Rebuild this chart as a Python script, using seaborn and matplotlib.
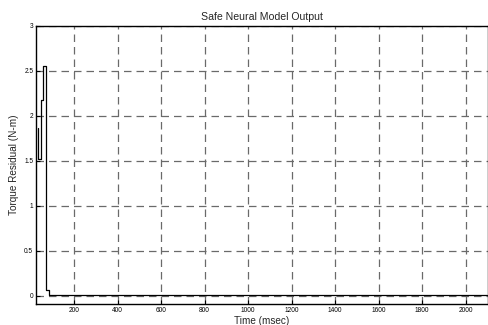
import matplotlib
matplotlib.use("Agg")
import matplotlib.pyplot as plt
import seaborn as sns
import pandas as pd

# Data
time_ms = [33, 33, 50, 57, 73, 85, 2100]
torque_residual = [1.87, 1.52, 2.18, 2.55, 0.07, 0.01, 0.01]
x_ticks = [200, 400, 600, 800, 1000, 1200, 1400, 1600, 1800, 2000]
y_ticks = [0, 0.5, 1, 1.5, 2, 2.5, 3]
y_tick_labels = ["0", "0.5", "1", "1.5", "2", "2.5", "3"]

sns.set_theme(style="white")
plt.rcParams['font.family'] = ['Liberation Sans', 'DejaVu Sans']

df = pd.DataFrame({"t": time_ms, "r": torque_residual})

fig = plt.figure(figsize=(4.89, 3.25), dpi=100)
ax = fig.add_axes([0.0736, 0.0646, 0.9244, 0.8554])

sns.lineplot(data=df, x="t", y="r", ax=ax, estimator=None, sort=False,
             drawstyle="steps-post", color="black", linewidth=0.9)

ax.set_xlim(25, 2103)
ax.set_ylim(-0.09, 3)
ax.set_xticks(x_ticks)
ax.set_xticklabels([str(v) for v in x_ticks])
ax.set_yticks(y_ticks)
ax.set_yticklabels(y_tick_labels)

ax.grid(True, color="#6a6a6a", linestyle=(0, (6, 4)), linewidth=0.9)
ax.tick_params(direction="in", length=3, width=0.8, labelsize=4.7,
               colors="black", pad=2, top=False, right=False,
               bottom=True, left=True)
for s in ax.spines.values():
    s.set_color("black")
    s.set_linewidth(1.0)

ax.set_title("Safe Neural Model Output", fontsize=7.6, pad=4)
ax.set_xlabel("Time (msec)", fontsize=7.2, labelpad=1.5)
ax.set_ylabel("Torque Residual (N-m)", fontsize=7.2, labelpad=4)

fig.savefig("out.png", dpi=100, facecolor="white")
